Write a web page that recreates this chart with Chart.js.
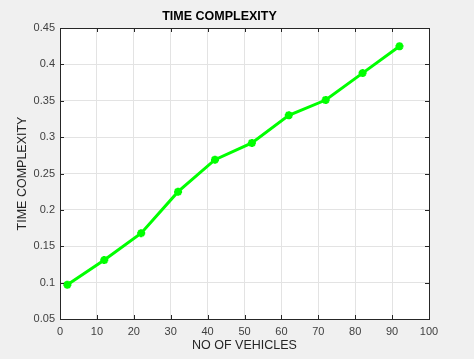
<!DOCTYPE html>
<html>
<head>
<meta charset="utf-8">
<script src="https://cdn.jsdelivr.net/npm/chart.js@4.4.1/dist/chart.umd.min.js"></script>
<style>
  html, body { margin: 0; padding: 0; background: #f0f0f0; }
  #wrap { width: 474px; height: 359px; }
</style>
</head>
<body>
<div id="wrap"><canvas id="tc" width="474" height="359"></canvas></div>
<script>
// data
const vehicles = [2, 12, 22, 32, 42, 52, 62, 72, 82, 92];
const timeComplexity = [0.097, 0.131, 0.168, 0.225, 0.269, 0.292, 0.330, 0.351, 0.388, 0.425];
const xTicks = [0, 10, 20, 30, 40, 50, 60, 70, 80, 90, 100];
const yTicks = [0.05, 0.1, 0.15, 0.2, 0.25, 0.3, 0.35, 0.4, 0.45];

// white axes background, dark box and inward ticks like matlab
const matlabBox = {
    id: 'matlabBox',
    beforeDraw(chart) {
        const { ctx, chartArea: a } = chart;
        ctx.save();
        ctx.fillStyle = '#ffffff';
        ctx.fillRect(a.left, a.top, a.right - a.left, a.bottom - a.top);
        ctx.restore();
    },
    afterDatasetsDraw(chart) {
        const { ctx, chartArea: a, scales } = chart;
        ctx.save();
        ctx.strokeStyle = '#262626';
        ctx.lineWidth = 1;
        ctx.beginPath();
        xTicks.forEach(v => {
            const px = Math.round(scales.x.getPixelForValue(v)) + 0.5;
            ctx.moveTo(px, a.bottom); ctx.lineTo(px, a.bottom - 4);
            ctx.moveTo(px, a.top); ctx.lineTo(px, a.top + 4);
        });
        yTicks.forEach(v => {
            const py = Math.round(scales.y.getPixelForValue(v)) + 0.5;
            ctx.moveTo(a.left, py); ctx.lineTo(a.left + 4, py);
            ctx.moveTo(a.right, py); ctx.lineTo(a.right - 4, py);
        });
        ctx.stroke();
        ctx.strokeRect(Math.round(a.left) + 0.5, Math.round(a.top) + 0.5,
            Math.round(a.right - a.left), Math.round(a.bottom - a.top));
        ctx.restore();
    }
};

const ctx = document.getElementById('tc').getContext('2d');
const chart = new Chart(ctx, {
    type: 'line',
    data: {
        datasets: [{
            label: 'TIME COMPLEXITY',
            data: vehicles.map((v, i) => ({ x: v, y: timeComplexity[i] })),
            borderColor: '#00ff00',
            backgroundColor: '#00ff00',
            borderWidth: 3,
            pointStyle: 'star',
            pointRadius: 4,
            pointBorderWidth: 2.5,
            pointBorderColor: '#00ff00',
            tension: 0
        }]
    },
    plugins: [matlabBox],
    options: {
        responsive: false,
        animation: false,
        layout: { padding: { left: 10, right: 45, top: 0, bottom: 6 } },
        plugins: {
            legend: { display: false },
            tooltip: { enabled: false },
            title: {
                display: true,
                text: 'TIME COMPLEXITY',
                color: '#000000',
                font: { family: 'Liberation Sans, Arial, sans-serif', size: 12.5, weight: 'bold' },
                padding: { top: 9, bottom: 4 }
            }
        },
        scales: {
            x: {
                type: 'linear',
                min: 0,
                max: 100,
                afterBuildTicks: s => { s.ticks = xTicks.map(v => ({ value: v })); },
                afterFit: s => { s.height = 34; },
                grid: { color: '#e3e3e3', drawTicks: false },
                border: { display: false },
                ticks: {
                    color: '#404040',
                    padding: 6,
                    maxRotation: 0,
                    font: { family: 'Liberation Sans, Arial, sans-serif', size: 11 }
                },
                title: {
                    display: true,
                    text: 'NO OF VEHICLES',
                    color: '#262626',
                    font: { family: 'Liberation Sans, Arial, sans-serif', size: 12.5 },
                    padding: { top: 2, bottom: 0 }
                }
            },
            y: {
                type: 'linear',
                min: 0.05,
                max: 0.45,
                afterBuildTicks: s => { s.ticks = yTicks.map(v => ({ value: v })); },
                afterFit: s => { s.width = 50; },
                grid: { color: '#e3e3e3', drawTicks: false },
                border: { display: false },
                ticks: {
                    color: '#404040',
                    padding: 5,
                    font: { family: 'Liberation Sans, Arial, sans-serif', size: 11 },
                    callback: v => String(Number(v.toFixed(2)))
                },
                title: {
                    display: true,
                    text: 'TIME COMPLEXITY',
                    color: '#262626',
                    font: { family: 'Liberation Sans, Arial, sans-serif', size: 12.5 },
                    padding: { top: 5, bottom: 0 }
                }
            }
        }
    }
});
</script>
</body>
</html>
